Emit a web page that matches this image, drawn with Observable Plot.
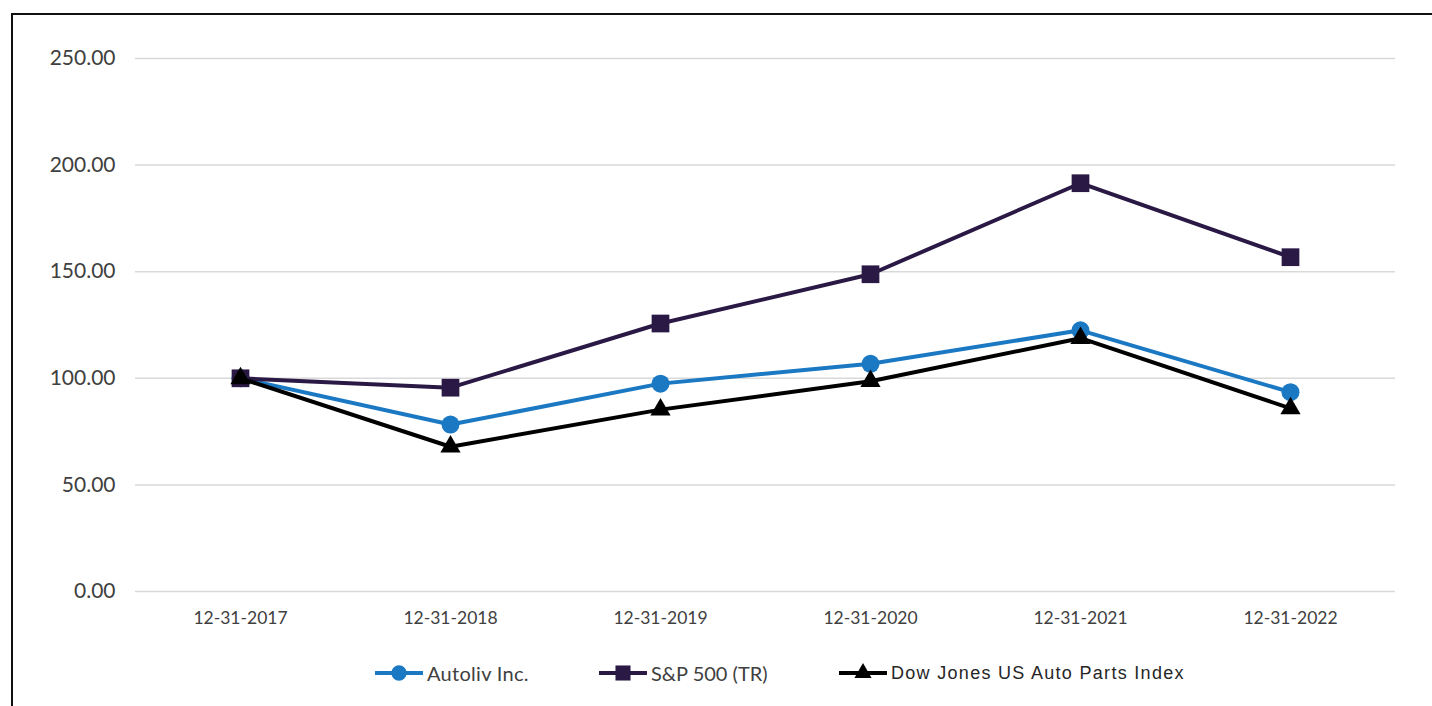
<!DOCTYPE html>
<html>
<head>
<meta charset="utf-8">
<script src="https://cdn.jsdelivr.net/npm/d3@7"></script>
<script src="https://cdn.jsdelivr.net/npm/@observablehq/plot@0.6"></script>
<style>
  html, body { margin: 0; padding: 0; background: #fff; }
  #frame { position: absolute; left: 11px; top: 13px; width: 1421px; height: 693px;
           border-left: 2px solid #111; border-top: 2px solid #111; background: #fff; }
  #chart { position: absolute; left: 0; top: 0; }
  #legend { position: absolute; left: 0; top: 644px; height: 28px; }
  .item { display: flex; align-items: center; position: absolute; top: 0; height: 28px; }
  .item span { color: #404040; margin-left: 3px; white-space: nowrap; }
</style>
</head>
<body>
<div id="frame">
  <div id="chart"></div>
  <div id="legend"></div>
</div>
<script>
// ---- data ----
const categories = ["12-31-2017", "12-31-2018", "12-31-2019", "12-31-2020", "12-31-2021", "12-31-2022"];
const autoliv  = [100.00, 78.3, 97.5, 106.8, 122.5, 93.5];
const sp500    = [100.00, 95.6, 125.7, 148.8, 191.5, 156.8];
const dowJones = [100.00, 67.9, 85.3, 98.6, 118.8, 85.9];
const seriesNames = ["Autoliv Inc.", "S&P 500 (TR)", "Dow Jones US Auto Parts Index"];
const yTicks = [0, 50, 100, 150, 200, 250];

const colors = {"Autoliv Inc.": "#1b78c2", "S&P 500 (TR)": "#2a1945", "Dow Jones US Auto Parts Index": "#000000"};
const symbols = {"Autoliv Inc.": "circle", "S&P 500 (TR)": "square", "Dow Jones US Auto Parts Index": "triangle"};
const radii = {"Autoliv Inc.": 9, "S&P 500 (TR)": 10, "Dow Jones US Auto Parts Index": 7.5};

const valuesBySeries = [autoliv, sp500, dowJones];
const table = [];
seriesNames.forEach((s, i) => categories.forEach((c, j) => table.push({series: s, date: c, value: valuesBySeries[i][j]})));

const marks = [
  Plot.ruleY(yTicks, {stroke: "#d9d9d9", strokeWidth: 1.5}),
  Plot.axisY(yTicks, {tickSize: 0, tickPadding: 20, tickFormat: d3.format(".2f"), fontSize: 21, fill: "#404040", label: null}),
  Plot.axisX({tickSize: 0, tickPadding: 20, fontSize: 17.5, fill: "#404040", label: null})
];
for (const s of seriesNames) {
  const d = table.filter(r => r.series === s);
  marks.push(Plot.line(d, {x: "date", y: "value", stroke: colors[s], strokeWidth: 4}));
  marks.push(Plot.dot(d, {x: "date", y: "value", symbol: symbols[s], r: radii[s], fill: colors[s], stroke: "none"}));
}

const plot = Plot.plot({
  width: 1419,
  height: 620,
  marginLeft: 122,
  marginRight: 37,
  marginTop: 43,
  marginBottom: 44,
  style: {fontFamily: "Lato, 'Open Sans', sans-serif", background: "transparent"},
  x: {type: "point", domain: categories, padding: 0.5},
  y: {domain: [0, 250]},
  marks
});
document.getElementById("chart").appendChild(plot);

// ---- legend ----
const legend = document.getElementById("legend");
const legendPos = [361, 585, 825];
const legendFonts = [
  "20px Lato, 'Open Sans', sans-serif",
  "20px Lato, 'Open Sans', sans-serif",
  "18px 'Liberation Sans', Arial, sans-serif"
];
const legendSpacing = ["0.3px", "0px", "1.3px"];
seriesNames.forEach((s, i) => {
  const item = document.createElement("div");
  item.className = "item";
  item.style.left = legendPos[i] + "px";
  const sw = d3.create("svg").attr("width", 50).attr("height", 28);
  sw.append("line").attr("x1", 1).attr("x2", 49).attr("y1", 14).attr("y2", 14)
    .attr("stroke", colors[s]).attr("stroke-width", 4);
  const symType = {circle: d3.symbolCircle, square: d3.symbolSquare, triangle: d3.symbolTriangle}[symbols[s]];
  const r = radii[s] * 0.85;
  sw.append("path").attr("transform", "translate(25,14)")
    .attr("d", d3.symbol(symType, r * r * Math.PI)()).attr("fill", colors[s]);
  item.appendChild(sw.node());
  const t = document.createElement("span");
  t.textContent = s;
  t.style.font = legendFonts[i];
  t.style.letterSpacing = legendSpacing[i];
  if (i === 2) t.style.color = "#262626";
  item.appendChild(t);
  legend.appendChild(item);
});
</script>
</body>
</html>
